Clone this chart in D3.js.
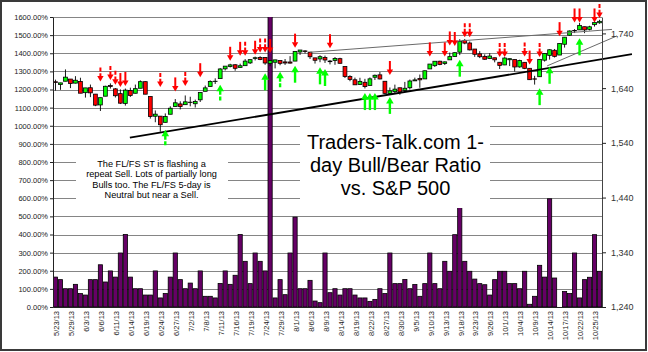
<!DOCTYPE html>
<html><head><meta charset="utf-8">
<script src="https://cdn.jsdelivr.net/npm/d3@7"></script>
<style>
body{margin:0;background:#fff}
svg{display:block}
text{font-family:"Liberation Sans",Arial,sans-serif}
</style>
</head><body>
<svg id="c" width="648" height="352"></svg>
<script>
// ---------------- DATA ----------------
const dates = ["5/23/13","5/24/13","5/28/13","5/29/13","5/30/13","5/31/13","6/3/13","6/4/13","6/5/13","6/6/13",
"6/7/13","6/10/13","6/11/13","6/12/13","6/13/13","6/14/13","6/17/13","6/18/13","6/19/13","6/20/13",
"6/21/13","6/24/13","6/25/13","6/26/13","6/27/13","6/28/13","7/1/13","7/2/13","7/3/13","7/5/13",
"7/8/13","7/9/13","7/10/13","7/11/13","7/12/13","7/15/13","7/16/13","7/17/13","7/18/13","7/19/13",
"7/22/13","7/23/13","7/24/13","7/25/13","7/26/13","7/29/13","7/30/13","7/31/13","8/1/13","8/2/13",
"8/5/13","8/6/13","8/7/13","8/8/13","8/9/13","8/12/13","8/13/13","8/14/13","8/15/13","8/16/13",
"8/19/13","8/20/13","8/21/13","8/22/13","8/23/13","8/26/13","8/27/13","8/28/13","8/29/13","8/30/13",
"9/3/13","9/4/13","9/5/13","9/6/13","9/9/13","9/10/13","9/11/13","9/12/13","9/13/13","9/16/13",
"9/17/13","9/18/13","9/19/13","9/20/13","9/23/13","9/24/13","9/25/13","9/26/13","9/27/13","9/30/13",
"10/1/13","10/2/13","10/3/13","10/4/13","10/7/13","10/8/13","10/9/13","10/10/13","10/11/13","10/14/13",
"10/15/13","10/16/13","10/17/13","10/18/13","10/21/13","10/22/13","10/23/13","10/24/13","10/25/13","10/28/13"];

// 1-day Bull/Bear ratio (%)
const bullBearRatio = [165,151,101,101,125,74,66,151,151,233,
138,199,165,298,400,165,101,101,66,66,
199,50,74,165,298,151,101,132,101,199,
59,59,50,130,199,125,175,400,252,129,
298,252,199,1700,50,151,68,298,496,101,
101,147,33,24,298,79,101,66,101,101,
66,50,50,31,42,101,74,298,129,129,
152,101,124,59,129,298,129,101,252,197,
399,551,252,197,154,129,123,66,151,197,
197,129,129,101,197,15,59,230,165,597,
160,null,85,74,298,50,151,164,399,197];

// S&P 500 OHLC
const spxOpen = [1651.62,1646.67,1652.63,1656.57,1649.14,1652.13,1631.71,1640.73,1629.05,1609.29,
1625.27,1644.67,1638.64,1629.94,1612.15,1635.52,1630.64,1639.77,1651.83,1624.62,
1588.62,1588.77,1577.52,1592.27,1606.44,1611.12,1609.78,1614.29,1611.48,1618.65,
1634.20,1642.89,1652.50,1657.41,1675.26,1679.59,1682.70,1677.91,1681.05,1686.15,
1694.41,1696.06,1696.06,1685.21,1687.31,1690.32,1687.92,1687.76,1689.42,1706.10,
1708.01,1705.79,1695.30,1693.35,1696.10,1688.37,1690.65,1693.88,1679.61,1661.22,
1655.25,1646.81,1650.66,1645.03,1659.92,1664.29,1652.54,1630.25,1633.50,1640.68,
1635.95,1640.72,1653.28,1657.44,1656.85,1675.11,1681.04,1689.21,1685.04,1691.70,
1697.73,1705.74,1727.34,1722.44,1711.44,1702.60,1698.02,1694.05,1695.52,1687.26,
1682.41,1691.90,1692.35,1678.79,1687.15,1676.22,1656.99,1660.88,1691.09,1699.86,
1709.17,1700.49,1720.17,1736.72,1745.20,1746.48,1752.27,1747.48,1756.01,1759.42];
const spxHigh = [1655.50,1649.78,1674.21,1656.57,1661.91,1658.99,1640.42,1646.53,1629.31,1622.56,
1644.40,1648.69,1640.13,1637.71,1639.25,1640.80,1646.50,1654.19,1652.45,1624.62,
1599.19,1588.77,1593.79,1606.83,1620.07,1615.94,1626.61,1624.26,1618.97,1632.07,
1644.68,1654.18,1657.92,1676.63,1680.19,1684.51,1683.73,1684.75,1693.12,1692.09,
1697.61,1698.38,1696.81,1690.94,1691.85,1690.92,1693.19,1698.43,1707.85,1709.67,
1709.24,1705.79,1695.30,1700.18,1699.42,1691.49,1696.81,1695.52,1679.61,1663.60,
1659.18,1658.92,1656.99,1659.55,1664.85,1669.51,1652.54,1641.18,1646.41,1640.68,
1651.35,1655.72,1659.17,1664.83,1672.40,1684.09,1689.13,1689.97,1688.73,1704.95,
1705.52,1729.44,1729.86,1725.23,1711.44,1707.63,1701.71,1703.85,1695.52,1687.26,
1696.55,1693.87,1692.35,1691.94,1687.15,1676.79,1662.47,1692.56,1703.44,1711.03,
1711.57,1721.76,1733.45,1745.31,1747.79,1759.33,1752.27,1753.94,1759.82,1764.99];
const spxLow = [1635.53,1636.88,1652.63,1640.05,1648.61,1630.74,1622.72,1623.62,1607.09,1598.23,
1625.27,1639.26,1622.92,1610.92,1608.07,1623.96,1630.34,1639.77,1628.91,1584.32,
1577.70,1560.33,1577.09,1592.27,1606.44,1601.06,1609.78,1606.77,1604.57,1614.71,
1634.20,1642.89,1647.66,1657.41,1672.33,1677.89,1671.84,1677.91,1681.05,1684.08,
1690.67,1691.13,1682.62,1680.07,1676.03,1681.86,1682.42,1684.94,1689.42,1700.68,
1703.55,1693.29,1684.91,1687.36,1686.02,1683.35,1682.62,1684.83,1658.59,1652.61,
1645.84,1646.08,1639.43,1645.03,1654.81,1656.02,1629.05,1627.47,1630.88,1628.01,
1633.41,1637.41,1653.07,1640.62,1656.85,1675.11,1678.70,1681.96,1682.22,1691.70,
1697.73,1700.35,1720.20,1708.89,1697.10,1694.90,1691.88,1693.11,1687.11,1674.99,
1682.07,1680.34,1670.36,1677.33,1674.70,1655.03,1646.47,1660.88,1688.52,1692.13,
1695.93,1700.49,1714.12,1735.74,1740.67,1746.48,1740.50,1745.50,1752.45,1757.67];
const spxClose = [1650.51,1649.60,1660.06,1648.36,1654.41,1630.74,1640.42,1631.38,1608.90,1622.56,
1643.38,1642.81,1626.13,1612.52,1636.36,1626.73,1639.04,1651.81,1628.93,1588.19,
1592.43,1573.09,1588.03,1603.26,1613.20,1606.28,1614.96,1614.08,1615.41,1631.89,
1640.46,1652.32,1652.62,1675.02,1680.19,1682.50,1676.26,1680.91,1689.37,1692.09,
1695.53,1692.39,1685.94,1690.25,1691.65,1685.33,1685.96,1685.73,1706.87,1709.67,
1707.14,1697.37,1690.91,1697.48,1691.42,1689.47,1694.16,1685.39,1661.32,1655.83,
1646.06,1652.35,1642.80,1656.96,1663.50,1656.78,1630.48,1634.96,1638.17,1632.97,
1639.77,1653.08,1655.08,1655.17,1671.71,1683.99,1689.13,1683.42,1687.99,1697.60,
1704.76,1725.52,1722.34,1709.91,1701.84,1697.42,1692.77,1698.67,1691.75,1681.55,
1695.00,1693.87,1678.66,1690.50,1676.12,1655.45,1656.40,1692.56,1703.20,1710.14,
1698.06,1721.54,1733.15,1744.50,1744.66,1754.67,1746.38,1752.07,1759.77,1762.11];

const pctTicks = [0,100,200,300,400,500,600,700,800,900,1000,1100,1200,1300,1400,1500,1600];
const spxTicks = [1240,1340,1440,1540,1640,1740];
const dateTicks = dates.filter((d,i)=>i%3===0);

// sell signals (red, pointing down): [date, S&P level at arrow tip, dashed]
const sellArrows = [["6/6/13",1652,1],["6/10/13",1655,1],["6/11/13",1646,1],["6/12/13",1642,0],["6/13/13",1644,0],
["6/24/13",1642,1],["6/27/13",1634,0],["7/1/13",1644,1],["7/5/13",1660,0],["7/15/13",1690,0],
["7/17/13",1699,0],["7/18/13",1699,1],["7/22/13",1701,0],["7/23/13",1705,1],["7/24/13",1705,1],["7/25/13",1704,0],
["8/1/13",1714,0],["8/12/13",1713,0],["8/28/13",1664,0],["9/10/13",1698,0],["9/13/13",1698,0],
["9/16/13",1718,0],["9/17/13",1717,0],["9/19/13",1733,1],["9/20/13",1733,1],["9/30/13",1697,1],["10/1/13",1697,1],
["10/7/13",1698,1],["10/8/13",1683,0],["10/10/13",1697,1],["10/16/13",1735,0],["10/21/13",1760,0],
["10/22/13",1760,0],["10/25/13",1760,0],["10/28/13",1768,1]];
// buy signals (green, pointing up): [date, S&P level at arrow tip, dashed]
const buyArrows = [["6/25/13",1564,1],["7/11/13",1646,1],["7/24/13",1667,0],["7/29/13",1670,1],["8/1/13",1681,0],
["8/8/13",1678,0],["8/9/13",1675,0],["8/21/13",1631,0],["8/22/13",1631,0],["8/23/13",1631,0],["8/28/13",1624,0],
["9/18/13",1692,0],["10/10/13",1640,0],["10/14/13",1679,0],["10/22/13",1731,0]];

// trend lines: trading-day index (may run past the last day) and S&P level
const trendLines = [
  {name:"support", days:[14.9,115.5], levels:[1549.5,1702]},
  {name:"resistance", days:[51,111.5], levels:[1705.6,1747.3]},
  {name:"shortTerm", days:[98.5,112.5], levels:[1680.6,1735.4]}
];
const trendStyle = {support:{c:"#000",w:1.8}, resistance:{c:"#6a6a6a",w:1}, shortTerm:{c:"#6a6a6a",w:1}};

const titleLines = ["Traders-Talk.com 1-","day Bull/Bear Ratio","vs. S&P 500"];
const noteLines = ["The FL/FS ST is flashing a","repeat Sell. Lots of partially long","Bulls too. The FL/FS 5-day is","Neutral but near a Sell."];

// ---------------- CHART ----------------
const svg = d3.select("#c");
const L=53, R=602, T=17, B=307;
const N = dates.length;
const x = d3.scaleBand().domain(dates).range([L,R]).padding(0);
const bw = x.bandwidth();
const xc = d => x(d)+bw/2;
const xi = d3.scaleLinear().domain([-0.5,N-0.5]).range([L,R]);
const yP = d3.scaleLinear().domain([0,1600]).range([B,T]);
const yS = d3.scaleLinear().domain([1240,1770]).range([B,T]);

svg.append("rect").attr("x",1).attr("y",1).attr("width",645).attr("height",349)
  .attr("fill","#fff").attr("stroke","#3a3a3a").attr("stroke-width",2);

svg.append("defs").append("clipPath").attr("id","pc").append("rect")
  .attr("x",L).attr("y",T).attr("width",R-L).attr("height",B-T);

// gridlines
svg.append("g").selectAll("line").data(pctTicks).join("line")
  .attr("x1",L).attr("x2",R).attr("y1",d=>Math.round(yP(d))+0.5).attr("y2",d=>Math.round(yP(d))+0.5)
  .attr("stroke","#858585").attr("stroke-width",1);

// ratio bars
svg.append("g").attr("clip-path","url(#pc)").selectAll("rect")
  .data(dates.map((d,i)=>({d,v:bullBearRatio[i]})).filter(o=>o.v!=null))
  .join("rect")
  .attr("x",o=>x(o.d)+0.4).attr("width",bw-0.8)
  .attr("y",o=>yP(o.v)).attr("height",o=>B-yP(o.v))
  .attr("fill","#660066").attr("stroke","#000").attr("stroke-width",0.8);

// candles
const cd = dates.map((d,i)=>({d,o:spxOpen[i],h:spxHigh[i],l:spxLow[i],c:spxClose[i]}));
const cg = svg.append("g");
cg.selectAll("line").data(cd).join("line")
  .attr("x1",o=>xc(o.d)).attr("x2",o=>xc(o.d)).attr("y1",o=>yS(o.h)).attr("y2",o=>yS(o.l))
  .attr("stroke","#000").attr("stroke-width",0.9);
cg.selectAll("rect").data(cd).join("rect")
  .attr("x",o=>xc(o.d)-1.9).attr("width",3.8)
  .attr("y",o=>yS(Math.max(o.o,o.c))).attr("height",o=>Math.max(0.3,Math.abs(yS(o.o)-yS(o.c))))
  .attr("fill",o=>o.c>=o.o?"#00ff00":"#ff0000").attr("stroke","#000").attr("stroke-width",0.8);

// trend lines
svg.append("g").selectAll("line").data(trendLines).join("line")
  .attr("x1",t=>xi(t.days[0])).attr("x2",t=>xi(t.days[1]))
  .attr("y1",t=>yS(t.levels[0])).attr("y2",t=>yS(t.levels[1]))
  .attr("stroke",t=>trendStyle[t.name].c).attr("stroke-width",t=>trendStyle[t.name].w);

// arrows
const sg = svg.append("g").selectAll("g").data(sellArrows).join("g")
  .attr("transform",a=>`translate(${xc(a[0])},${yS(a[1])})`);
sg.append("line").attr("x1",0).attr("x2",0).attr("y1",-14).attr("y2",-5)
  .attr("stroke","#ff0000").attr("stroke-width",2).attr("stroke-dasharray",a=>a[2]?"4,1.6":null);
sg.append("path").attr("d","M-3.2,-5.5L3.2,-5.5L0,0Z").attr("fill","#ff0000");

const bg = svg.append("g").selectAll("g").data(buyArrows).join("g")
  .attr("transform",a=>`translate(${xc(a[0])},${yS(a[1])})`);
bg.append("line").attr("x1",0).attr("x2",0).attr("y1",6).attr("y2",17)
  .attr("stroke","#00ff00").attr("stroke-width",2.4).attr("stroke-dasharray",a=>a[2]?"4,1.6":null);
bg.append("path").attr("d","M-3.8,6.5L3.8,6.5L0,0Z").attr("fill","#00ff00");

// axes
const ax = svg.append("g").attr("transform",`translate(${L},0)`)
  .call(d3.axisLeft(yP).tickValues(pctTicks).tickFormat(d=>d.toFixed(2)+"%").tickSize(3).tickSizeOuter(0).tickPadding(2));
ax.select(".domain").attr("stroke","#222");
ax.selectAll(".tick line").attr("stroke","#222");
ax.selectAll("text").attr("font-size","7.5px").attr("fill","#222").attr("font-family",'"Liberation Sans",Arial,sans-serif');

const ar = svg.append("g").attr("transform",`translate(${R},0)`)
  .call(d3.axisRight(yS).tickValues(spxTicks).tickFormat(d3.format(",")).tickSize(4).tickSizeOuter(0).tickPadding(5));
ar.select(".domain").attr("stroke","#444");
ar.selectAll(".tick line").attr("stroke","#222");
ar.selectAll("text").attr("font-size","9px").attr("fill","#333").attr("font-family",'"Liberation Sans",Arial,sans-serif');

const axb = svg.append("g").attr("transform",`translate(0,${B})`)
  .call(d3.axisBottom(x).tickValues(dateTicks).tickSize(0).tickSizeOuter(0));
axb.select(".domain").attr("stroke","#222");
axb.selectAll("text").attr("transform","rotate(-90)").attr("text-anchor","end")
  .attr("x",-4).attr("y",0).attr("dy","0.5em")
  .attr("font-size","7.5px").attr("fill","#222").attr("font-family",'"Liberation Sans",Arial,sans-serif');

// text boxes
svg.append("rect").attr("x",76).attr("y",152).attr("width",152).attr("height",56).attr("fill","#fff");
const note = svg.append("text").attr("x",151.5).attr("y",167).attr("text-anchor","middle")
  .attr("font-size","9.2px").attr("fill","#000");
note.selectAll("tspan").data(noteLines).join("tspan")
  .attr("x",151.5).attr("dy",(d,i)=>i?10.35:0).text(d=>d);

svg.append("rect").attr("x",300).attr("y",114).attr("width",190).attr("height",94).attr("fill","#fff");
const title = svg.append("text").attr("x",395.5).attr("y",148.5).attr("text-anchor","middle")
  .attr("font-size","20px").attr("fill","#000");
title.selectAll("tspan").data(titleLines).join("tspan")
  .attr("x",395.5).attr("dy",(d,i)=>i?23.2:0).text(d=>d);
</script>
</body></html>
